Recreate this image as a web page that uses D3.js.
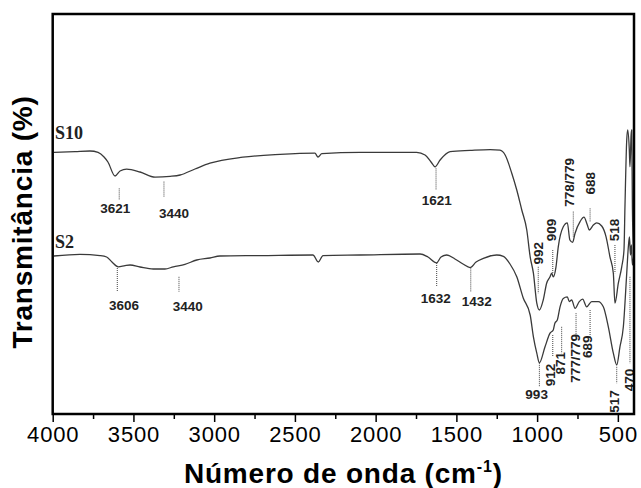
<!DOCTYPE html>
<html>
<head>
<meta charset="utf-8">
<script src="https://cdn.jsdelivr.net/npm/d3@7/dist/d3.min.js"></script>
<style>
  html, body { margin: 0; padding: 0; background: #fff; }
  svg { display: block; }
</style>
</head>
<body>
<svg id="chart" width="641" height="488"></svg>
<script>
// ---------- DATA ----------
const seriesNames = ["S10", "S2"];
const seriesLabelWave = [3985, 3985];
const seriesLabelT = [70.2, 43.0];

const s10Wave = [3992,3862,3769,3719,3682,3658,3614,3583,3542,3459,3366,3273,3211,3119,3026,2822,2592,2376,2357,2333,2097,1746,1694,1657,1632,1601,1539,1415,1291,1230,1198,1157,1126,1095,1064,1043,1023,1002,986,962,941,920,910,900,883,869,838,813,797,780,765,734,710,689,677,652,631,600,573,549,528,518,497,476,462,456,445,439,429,425,418,414,410,406,401];
const s10Trans = [65.4,65.6,65.75,65.4,64.25,63.0,59.5,60.75,61.2,60.5,59.2,59.4,59.75,61.25,62.7,64.2,64.9,65.2,64.25,65.1,65.4,65.4,64.75,63.0,61.8,63.5,65.6,65.9,66.1,65.95,64.75,60.2,56.0,51.0,46.0,39.3,35.2,27.7,26.0,28.5,32.7,34.3,35.2,34.3,36.8,41.8,46.8,47.8,43.5,42.9,45.2,48.1,49.2,47.25,46.0,47.25,47.8,47.0,44.3,39.3,35.2,27.7,32.7,36.8,41.0,51.8,68.5,71.0,66.0,61.8,69.75,71.0,51.8,43.5,38.5];

const s2Wave = [3992,3831,3707,3666,3633,3594,3552,3521,3459,3377,3305,3253,3181,3108,3026,2964,2716,2388,2355,2326,2097,1725,1676,1622,1595,1560,1509,1459,1415,1378,1333,1250,1209,1168,1126,1086,1043,1023,1002,986,951,920,900,890,875,858,838,813,801,786,765,739,718,693,662,621,590,559,528,507,487,466,445,435,428,422,416,410,401];
const s2Trans = [39.5,39.9,39.6,39.25,38.0,36.8,37.1,37.25,36.75,36.25,36.25,36.8,37.4,38.5,39.0,39.5,39.6,39.75,38.0,39.6,39.75,40.0,39.25,37.8,39.25,39.75,38.75,37.5,36.6,38.0,38.9,39.75,39.4,37.5,34.3,29.0,24.75,19.3,15.2,12.8,16.8,20.2,21.0,22.7,23.5,26.8,28.9,29.3,28.1,28.5,26.4,28.1,28.7,26.8,28.1,28.1,26.8,21.8,15.2,12.25,16.8,21.8,35.2,41.8,44.25,39.75,42.25,37.25,39.75];

// band annotations (marker line in data units, label centre in data units)
const annLabels    = ["3621","3440","1621","992","909","778/779","688","518",
                      "3606","3440","1632","1432","993","912","871","777/779","689","517","470"];
const annWave      = [3588,3311,1626,993,903,776,672,518,
                      3600,3218,1622,1411,986,903,848,759,672,507,425];
const annTop       = [56.4,58.1,61.4,36.8,41.0,50.6,51.4,42.25,
                      36.5,34.3,37.75,36.4,12.7,19.75,21.8,25.2,26.0,11.8,34.3];
const annBottom    = [53.5,54.3,56.0,30.2,35.2,44.3,48.1,35.2,
                      30.6,30.6,31.8,30.6,6.8,14.3,15.2,18.9,19.3,7.7,12.7];
const annLabelWave = [3612,3249,1622,993,914,797,672,518,
                      3558,3164,1628,1374,1003,920,858,765,689,518,429];
const annLabelT    = [51.5,50.2,53.5,40.2,46.0,57.9,57.7,46.0,
                      27.25,26.8,28.9,28.1,5.0,9.75,12.7,13.9,16.8,3.1,8.5];
const annVertical  = [false,false,false,true,true,true,true,true,
                      false,false,false,false,false,true,true,true,true,true,true];

const xMajorTicks = [4000,3500,3000,2500,2000,1500,1000,500];
const xMinorTicks = [3750,3250,2750,2250,1750,1250,750];
const xDomain = [4000, 400];
const yDomain = [0, 100];

const xTitle = "Número de onda (cm";
const xTitleSup = "-1";
const yTitle = "Transmitância (%)";

// ---------- LAYOUT ----------
const W = 641, H = 488;
const margin = {left: 52.7, right: 7, top: 14, bottom: 74};
const svg = d3.select("#chart");

const x = d3.scaleLinear().domain(xDomain).range([margin.left, W - margin.right]);
const y = d3.scaleLinear().domain(yDomain).range([H - margin.bottom, margin.top]);

const sans = "'Liberation Sans', Arial, Helvetica, sans-serif";
const serif = "'Liberation Serif', 'Times New Roman', serif";

// curves
const line = d3.line()
  .x(d => x(d[0]))
  .y(d => y(d[1]))
  .curve(d3.curveMonotoneX);

const series = [
  s10Wave.map((w, i) => [w, s10Trans[i]]),
  s2Wave.map((w, i) => [w, s2Trans[i]])
];

svg.append("clipPath").attr("id", "plotclip")
  .append("rect")
  .attr("x", margin.left).attr("y", margin.top)
  .attr("width", W - margin.left - margin.right)
  .attr("height", H - margin.top - margin.bottom);

const plot = svg.append("g").attr("clip-path", "url(#plotclip)");

series.forEach(s => {
  plot.append("path")
    .datum(s)
    .attr("fill", "none")
    .attr("stroke", "#3a3a3a")
    .attr("stroke-width", 1.3)
    .attr("stroke-linejoin", "round")
    .attr("d", line);
});

// series labels
seriesNames.forEach((n, i) => {
  svg.append("text")
    .attr("x", x(seriesLabelWave[i]))
    .attr("y", y(seriesLabelT[i]))
    .attr("dominant-baseline", "central")
    .attr("font-family", serif)
    .attr("font-weight", "bold")
    .attr("font-size", 18)
    .attr("fill", "#222")
    .text(n);
});

// annotations
annLabels.forEach((lab, i) => {
  plot.append("line")
    .attr("x1", x(annWave[i])).attr("x2", x(annWave[i]))
    .attr("y1", y(annTop[i])).attr("y2", y(annBottom[i]))
    .attr("stroke", "#444")
    .attr("stroke-width", 1)
    .attr("stroke-dasharray", "1,1");
  const lx = x(annLabelWave[i]), ly = y(annLabelT[i]);
  svg.append("text")
    .attr("transform", annVertical[i] ? `translate(${lx},${ly}) rotate(-90)` : `translate(${lx},${ly})`)
    .attr("text-anchor", "middle")
    .attr("dominant-baseline", "central")
    .attr("font-family", sans)
    .attr("font-weight", "bold")
    .attr("font-size", 13.5)
    .attr("fill", "#222")
    .text(lab);
});

// x axis
const axisY = H - margin.bottom;
const xAxis = d3.axisBottom(x).tickValues(xMajorTicks).tickSize(8).tickSizeOuter(0).tickPadding(4)
  .tickFormat(d3.format("d"));
const gx = svg.append("g").attr("transform", `translate(0,${axisY})`).call(xAxis);
gx.select(".domain").remove();
gx.selectAll(".tick line").attr("stroke", "#000").attr("stroke-width", 1.5);
gx.selectAll(".tick text")
  .attr("font-family", sans)
  .attr("font-size", 22)
  .attr("letter-spacing", 0.8)
  .attr("fill", "#000");

const xMinor = d3.axisBottom(x).tickValues(xMinorTicks).tickSize(5).tickSizeOuter(0).tickFormat("");
const gxm = svg.append("g").attr("transform", `translate(0,${axisY})`).call(xMinor);
gxm.select(".domain").remove();
gxm.selectAll(".tick line").attr("stroke", "#000").attr("stroke-width", 1.5);

// frame
svg.append("rect")
  .attr("x", margin.left).attr("y", margin.top)
  .attr("width", W - margin.left - margin.right)
  .attr("height", H - margin.top - margin.bottom)
  .attr("fill", "none")
  .attr("stroke", "#000")
  .attr("stroke-width", 2.5);

// axis titles
const xt = svg.append("text")
  .attr("x", (margin.left + W - margin.right) / 2)
  .attr("y", 482.5)
  .attr("text-anchor", "middle")
  .attr("font-family", sans)
  .attr("font-weight", "bold")
  .attr("font-size", 28)
  .attr("letter-spacing", 0.8)
  .attr("fill", "#000");
xt.append("tspan").text(xTitle);
xt.append("tspan").attr("font-size", 16).attr("dy", -11).text(xTitleSup);
xt.append("tspan").attr("dy", 11).text(")");

svg.append("text")
  .attr("transform", `translate(32,${222}) rotate(-90)`)
  .attr("text-anchor", "middle")
  .attr("font-family", sans)
  .attr("font-weight", "bold")
  .attr("font-size", 28)
  .attr("letter-spacing", 0.8)
  .attr("fill", "#000")
  .text(yTitle);
</script>
</body>
</html>
